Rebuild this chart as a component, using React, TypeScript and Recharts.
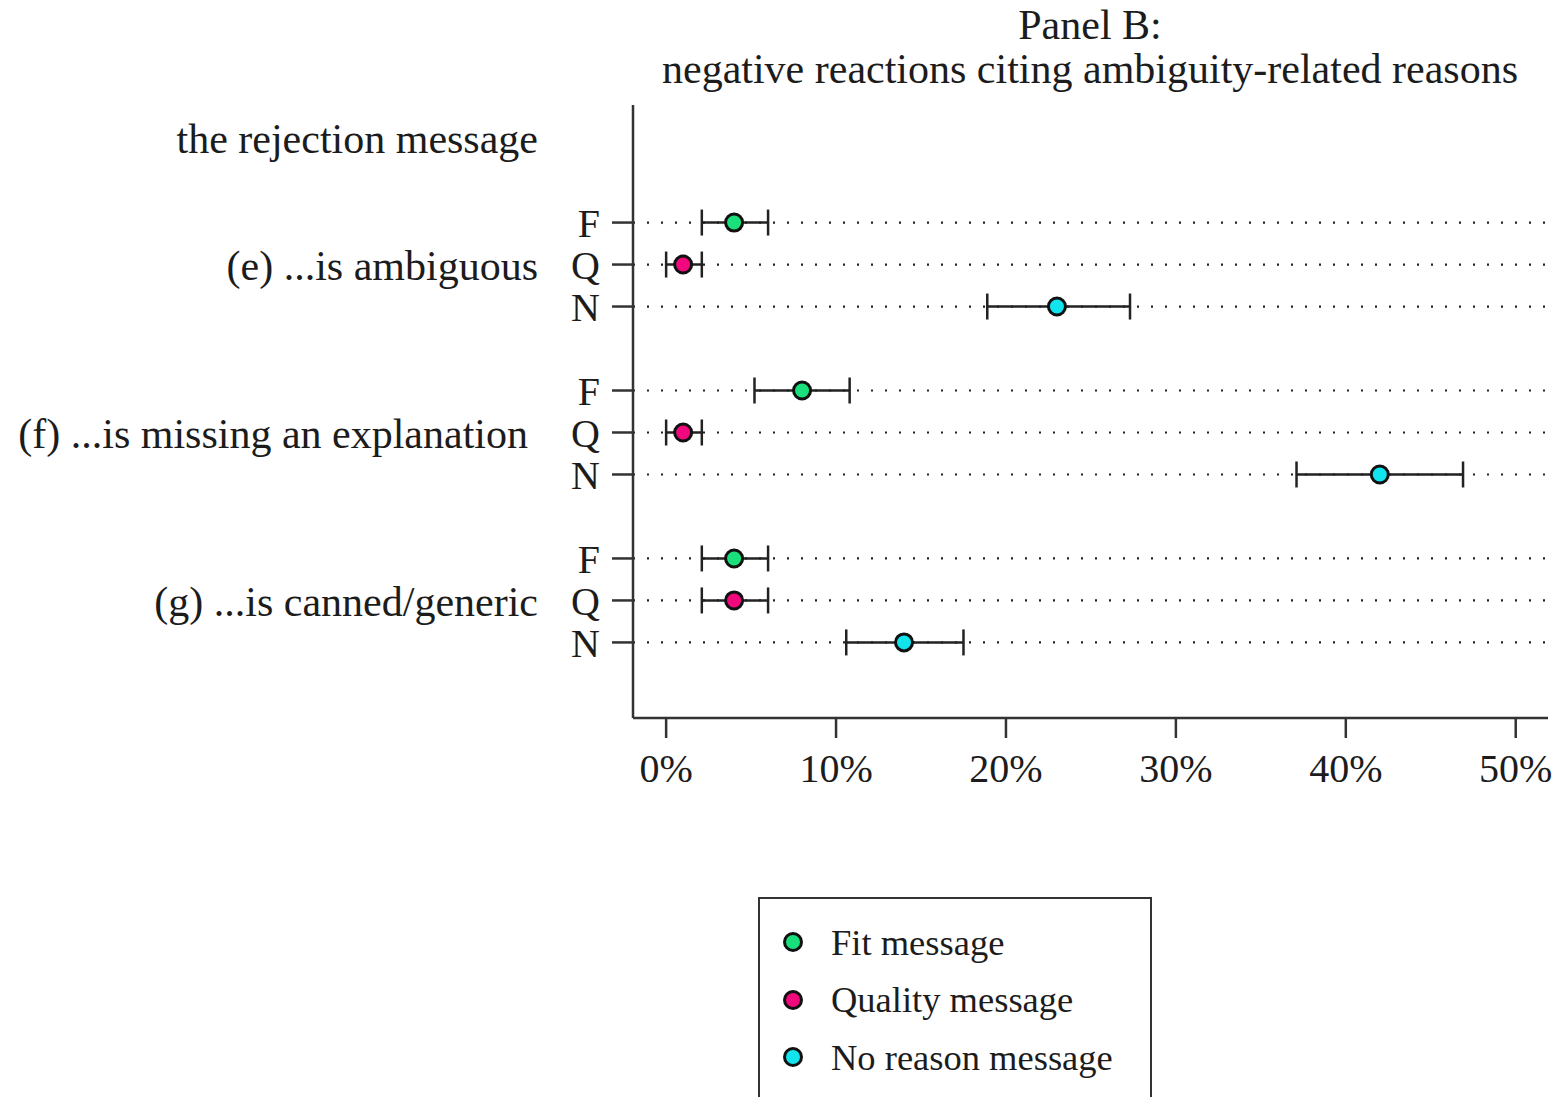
import { ScatterChart, Scatter, XAxis, YAxis, ReferenceLine, ErrorBar } from 'recharts';

// rows: F / Q / N inside each group, one empty row between groups
const groups = ['(e) ...is ambiguous', '(f) ...is missing an explanation', '(g) ...is canned/generic'];
const rowCodes = ['F', 'Q', 'N'];
const xTicks = [0, 10, 20, 30, 40, 50];

const fitValues = [4, 8, 4];
const fitLow = [2.1, 5.2, 2.1];
const fitHigh = [6, 10.8, 6];

const qualityValues = [1, 1, 4];
const qualityLow = [0, 0, 2.1];
const qualityHigh = [2.1, 2.1, 6];

const noReasonValues = [23, 42, 14];
const noReasonLow = [18.9, 37.1, 10.6];
const noReasonHigh = [27.3, 46.9, 17.5];

const seriesList = [
  { name: 'Fit message', color: '#19e07a', values: fitValues, low: fitLow, high: fitHigh },
  { name: 'Quality message', color: '#f0087c', values: qualityValues, low: qualityLow, high: qualityHigh },
  { name: 'No reason message', color: '#12e4ee', values: noReasonValues, low: noReasonLow, high: noReasonHigh },
];

const rowPos = (g: number, s: number) => g * 4 + s + 1;
const yTicks = groups.flatMap((_, g) => rowCodes.map((_, s) => rowPos(g, s)));

const FONT = "'Liberation Serif', 'Times New Roman', serif";
const INK = '#1c1c1c';

function YTick(props: any) {
  const { x, y, payload } = props;
  const v = payload.value as number;
  const g = Math.floor((v - 1) / 4);
  const s = (v - 1) % 4;
  // the long (f) label sits a bit further left in the original
  const shift = groups[g].length > 25 ? 72 : 62;
  return (
    <g>
      <text x={x} y={y} dy="0.36em" textAnchor="end" fontSize={40} fill={INK} fontFamily={FONT}>
        {rowCodes[s]}
      </text>
      {s === 1 && (
        <text x={x - shift} y={y} dy="0.36em" textAnchor="end" fontSize={42} fill={INK} fontFamily={FONT}>
          {groups[g]}
        </text>
      )}
    </g>
  );
}

function Dot(props: any) {
  const { cx, cy, fill } = props;
  return <circle cx={cx} cy={cy} r={8.5} fill={fill} stroke="#111" strokeWidth={3} />;
}

export default function App() {
  return (
    <div
      style={{
        position: 'absolute',
        left: 0,
        top: 0,
        width: 1563,
        height: 1097,
        overflow: 'hidden',
        background: '#fff',
        fontFamily: FONT,
        color: INK,
      }}
    >
      <div style={{ position: 'absolute', left: 640, width: 900, top: 3, textAlign: 'center', fontSize: 42, lineHeight: '44px', whiteSpace: 'nowrap' }}>
        Panel B:
        <br />
        negative reactions citing ambiguity-related reasons
      </div>
      <div style={{ position: 'absolute', right: 1563 - 538, top: 115, fontSize: 42, lineHeight: '48px', whiteSpace: 'nowrap' }}>
        the rejection message
      </div>

      <ScatterChart width={1563} height={1097} margin={{ top: 105, right: 15, bottom: 299, left: 0 }}>
        <XAxis
          type="number"
          dataKey="x"
          domain={[-1.95, 51.9]}
          ticks={xTicks}
          tickFormatter={(v) => `${v}%`}
          height={80}
          tickSize={20}
          tickMargin={16}
          stroke="#333"
          strokeWidth={2.5}
          tick={{ fontSize: 40, fill: INK, fontFamily: FONT }}
          allowDataOverflow
        />
        <YAxis
          type="number"
          dataKey="y"
          domain={[-1.8, 12.8]}
          reversed
          ticks={yTicks}
          width={633}
          tickSize={21}
          tickMargin={12}
          stroke="#333"
          strokeWidth={2.5}
          tick={<YTick />}
          interval={0}
          allowDataOverflow
        />
        {yTicks.map((t) => (
          <ReferenceLine key={t} y={t} stroke="#222" strokeWidth={2.2} strokeDasharray="2 12" />
        ))}
        {seriesList.map((s, si) => (
          <Scatter
            key={s.name}
            name={s.name}
            data={s.values.map((v, g) => ({ x: v, y: rowPos(g, si), err: [v - s.low[g], s.high[g] - v] }))}
            fill={s.color}
            shape={<Dot />}
            isAnimationActive={false}
          >
            <ErrorBar dataKey="err" direction="x" width={13} stroke="#222" strokeWidth={2.5} />
          </Scatter>
        ))}
      </ScatterChart>

      <div
        style={{
          position: 'absolute',
          left: 758,
          top: 897,
          width: 390,
          height: 240,
          border: '2.5px solid #333',
          fontSize: 36.5,
        }}
      >
        {seriesList.map((s, i) => (
          <div key={s.name} style={{ position: 'absolute', left: 21, top: 23 + i * 57.5, height: 40, display: 'flex', alignItems: 'center' }}>
            <svg width={24} height={24} style={{ marginRight: 26 }}>
              <circle cx={12} cy={12} r={8.5} fill={s.color} stroke="#111" strokeWidth={3} />
            </svg>
            <span style={{ whiteSpace: 'nowrap' }}>{s.name}</span>
          </div>
        ))}
      </div>
    </div>
  );
}
